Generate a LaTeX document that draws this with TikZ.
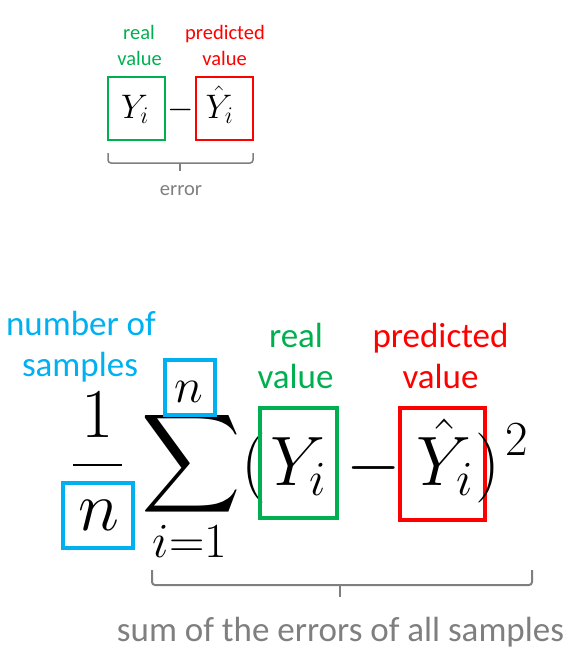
\RequirePackage{fix-cm}
\documentclass[tikz,border=0pt]{standalone}
\usepackage{amsmath}
\usepackage{graphicx}
\usepackage{fontspec}
\newfontfamily\lab{Carlito}
\definecolor{pgreen}{HTML}{00B050}
\definecolor{pred}{HTML}{FF0000}
\definecolor{pcyan}{HTML}{00B0F0}
\definecolor{pgray}{HTML}{7F7F7F}
\begin{document}
\begin{tikzpicture}[x=1pt,y=-1pt,
  lbls/.style={font=\lab\fontsize{20.5}{24}\selectfont, anchor=base, inner sep=0pt},
  lblb/.style={font=\lab\fontsize{35}{42}\selectfont, anchor=base, inner sep=0pt},
  mt/.style={font=\fontsize{34}{40}\selectfont, anchor=base, inner sep=0pt},
  mb/.style={font=\fontsize{70}{84}\selectfont, anchor=base, inner sep=0pt},
  ms/.style={font=\fontsize{49}{58}\selectfont, anchor=base, inner sep=0pt},
  frm/.style={draw, inner sep=0pt},
  br/.style={draw=pgray, rounded corners=3pt}
]
\useasboundingbox (0,0) rectangle (579,667);

% ---------- top formula ----------
\node[lbls, text=pgreen] (tr1) at (139,39) {real};
\node[lbls, text=pgreen] (tr2) at (139.5,65) {value};
\node[lbls, text=pred] (tp1) at (225,39) {predicted};
\node[lbls, text=pred] (tp2) at (224.5,65) {value};

\node[frm, draw=pgreen, line width=2pt, minimum width=57pt, minimum height=63pt] (tgb) at (136,108.5) {};
\node[frm, draw=pred, line width=2pt, minimum width=57pt, minimum height=63pt] (trb) at (224,108.5) {};
\node[mt] (tY) at (135,118) {$Y_i$};
\node[mt] (tm) at (180.5,118.5) {$-$};
\node[mt] (tYh) at (219.5,118) {$\hat{Y}_i$};

\coordinate (tbl) at (108,153);
\coordinate (tbm) at (180,163);
\coordinate (tbr) at (253,153);
\draw[br, line width=1.5pt] (tbl) |- (tbm) -| (tbr);
\draw[draw=pgray, line width=1.5pt] (tbm) -- ++(0,8);
\node[lbls, text=pgray] (terr) at (181,195) {error};

% ---------- bottom formula ----------
\node[lblb, text=pcyan] (bn1) at (81,335) {number of};
\node[lblb, text=pcyan] (bn2) at (80,376) {samples};
\node[lblb, text=pgreen] (br1) at (296,347) {real};
\node[lblb, text=pgreen] (br2) at (295.5,388) {value};
\node[lblb, text=pred] (bp1) at (440.5,347) {predicted};
\node[lblb, text=pred] (bp2) at (440.5,388) {value};

% fraction
\node[mb] (one) at (98,437) {$1$};
\draw[line width=2.8pt] (73,465) coordinate (fl) -- (122,465) coordinate (fr);
\node[frm, draw=pcyan, line width=3.5pt, minimum width=70pt, minimum height=65pt] (nbox) at (98,515.5) {};
\node[mb] (nden) at (98.5,530) {$n$};

% sum
\node[inner sep=0pt] (sig) at (191.5,464) {\scalebox{6.9}{$\displaystyle\sum$}};
\node[frm, draw=pcyan, line width=3.5pt, minimum width=50pt, minimum height=55pt] (ubox) at (190,387.5) {};
\node[ms] (nup) at (189,402) {$n$};
\node[ms] (low) at (190,557) {$i{=}1$};

% bracket term
\node[mb] (lp) at (254,485) {$($};
\node[frm, draw=pgreen, line width=3.5pt, minimum width=77pt, minimum height=110pt] (bgb) at (298.5,463) {};
\node[mb] (bY) at (298.5,485) {$Y_i$};
\node[mb] (bm) at (374,485) {$-$};
\node[frm, draw=pred, line width=3.5pt, minimum width=85pt, minimum height=112pt] (brb) at (442.5,464) {};
\node[mb] (bYh) at (445,485) {$\hat{Y}_i$};
\node[mb] (rp) at (488,485) {$)$};
\node[ms] (sq) at (517,455) {$2$};

\coordinate (bbl) at (152,570);
\coordinate (bbm) at (340,585);
\coordinate (bbr) at (532,570);
\draw[br, line width=2pt] (bbl) |- (bbm) -| (bbr);
\draw[draw=pgray, line width=2pt] (bbm) -- ++(0,12);
\node[lblb, text=pgray] (bsum) at (340.5,641) {sum of the errors of all samples};
\end{tikzpicture}
\end{document}
